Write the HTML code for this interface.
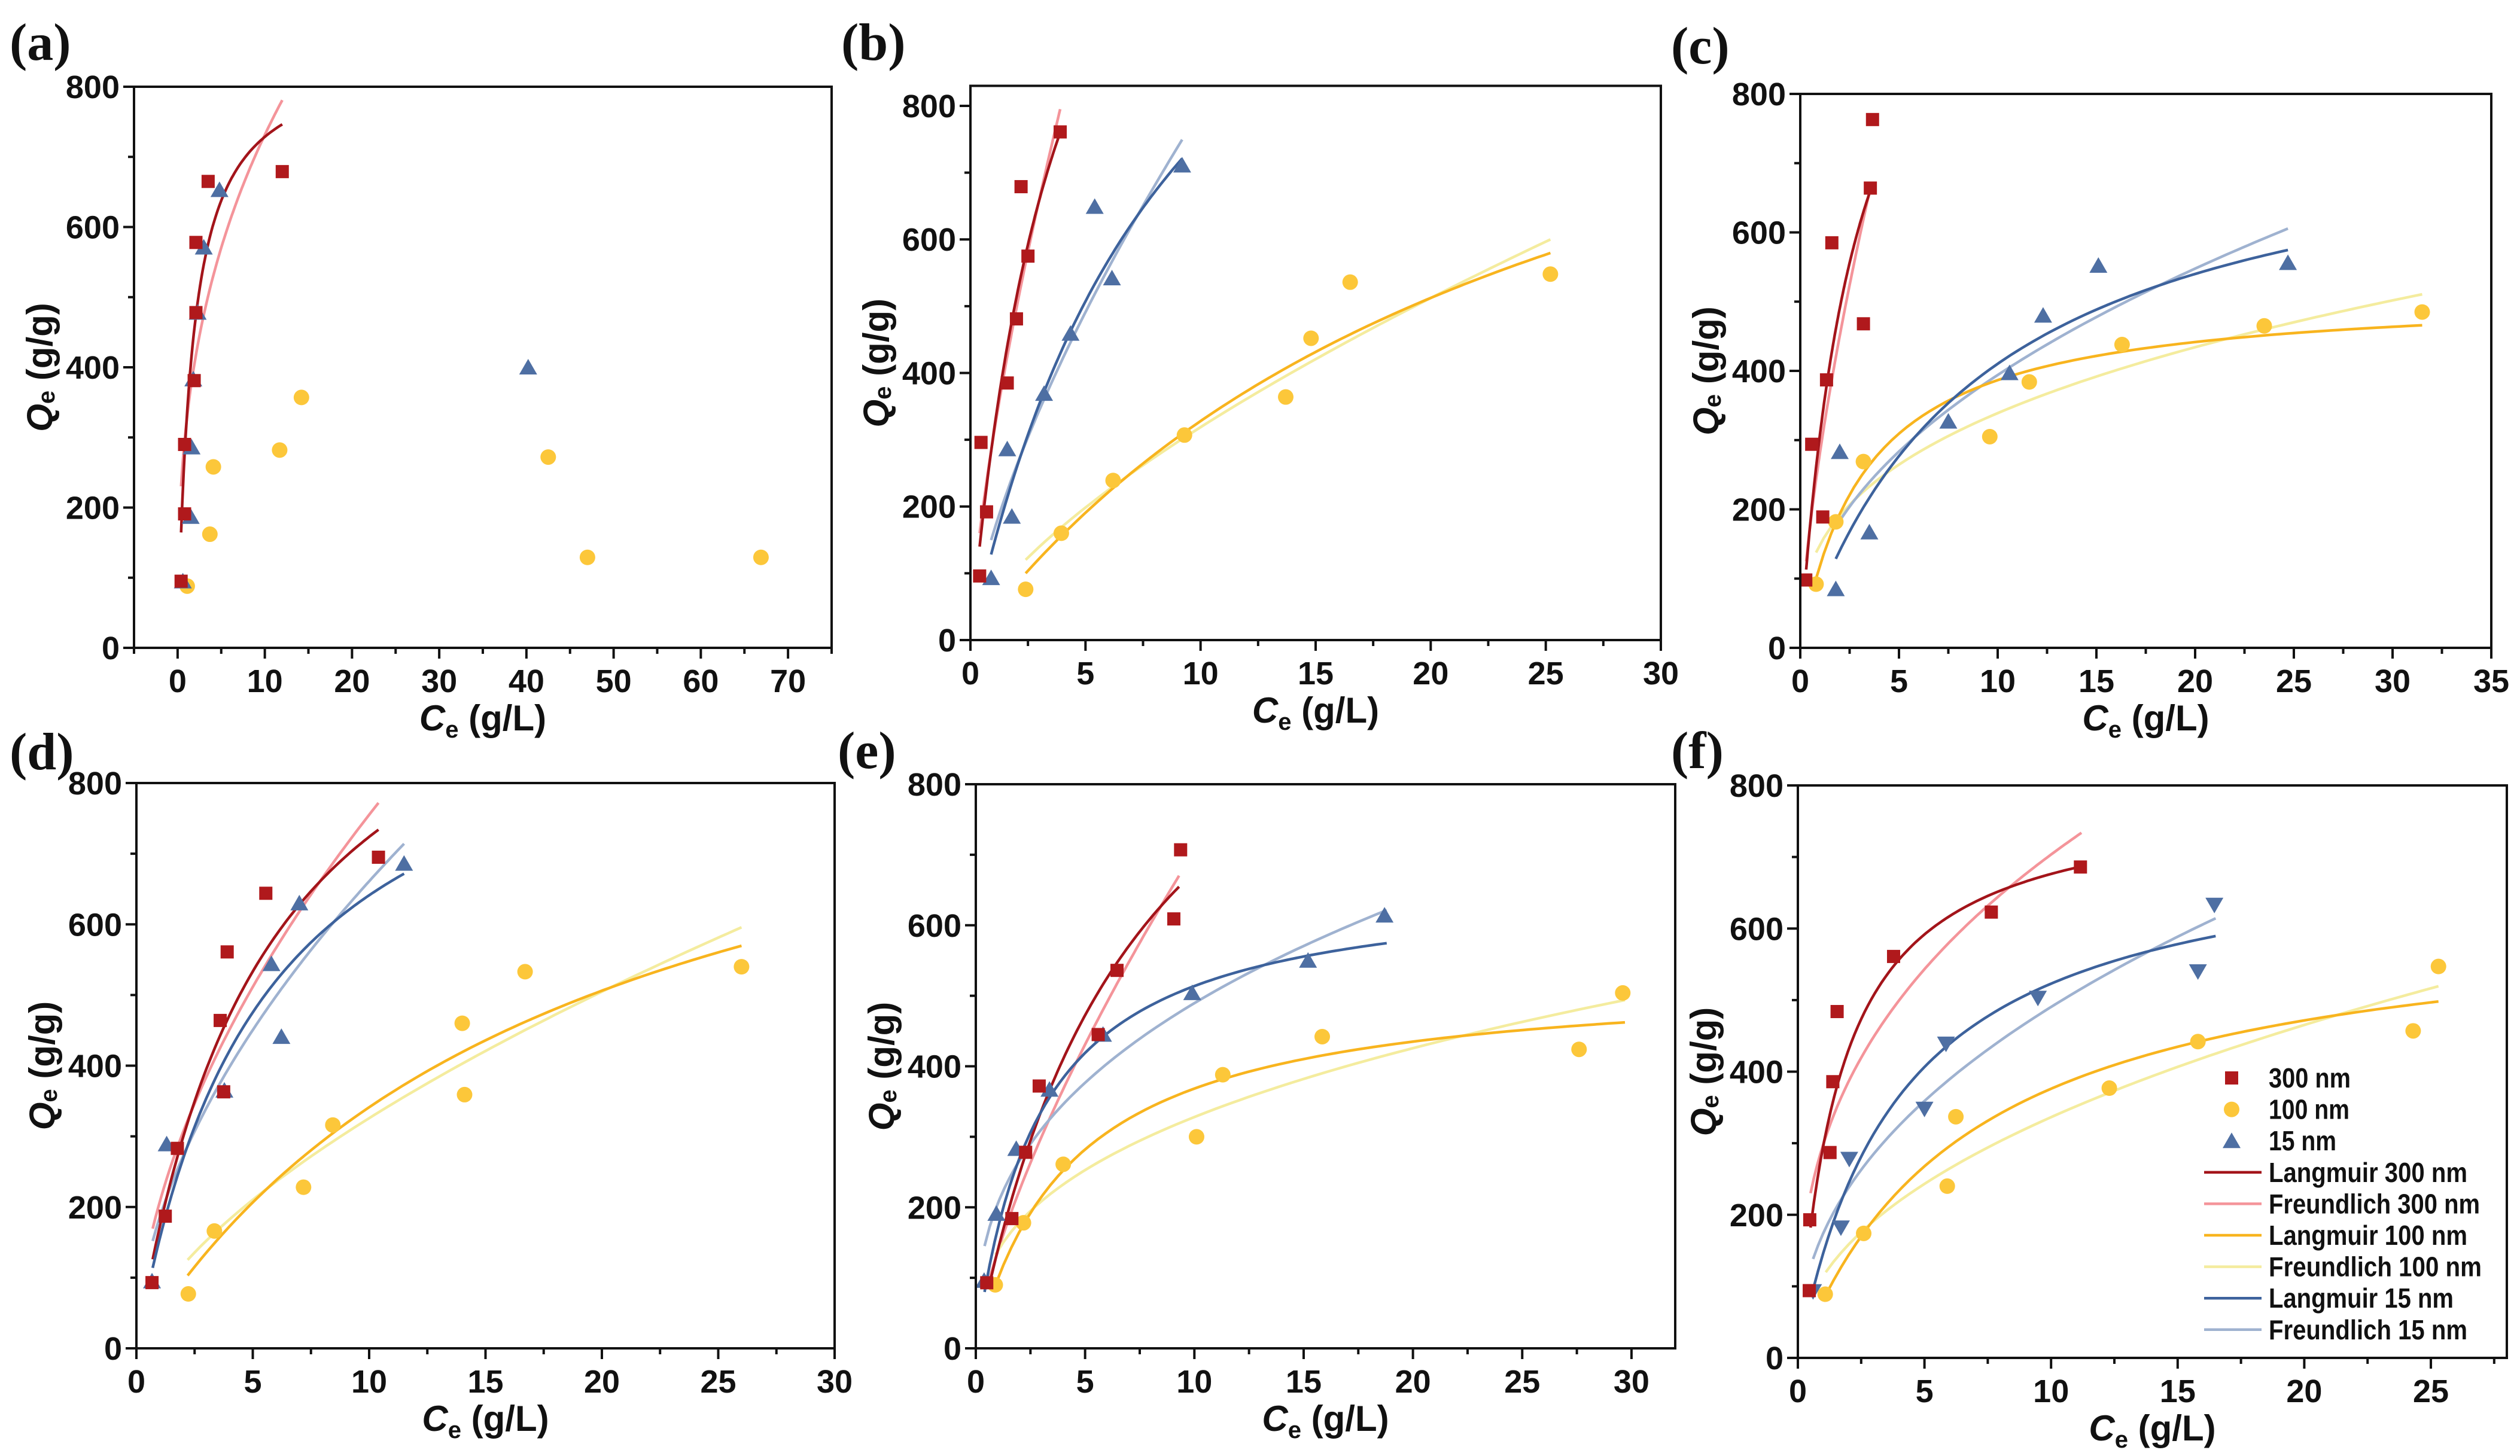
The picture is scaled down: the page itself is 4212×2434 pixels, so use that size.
<!DOCTYPE html>
<html><head><meta charset="utf-8"><style>
html,body{margin:0;padding:0;background:#fff;}
svg{display:block;}
text{font-family:"Liberation Sans",Arial,sans-serif;font-weight:bold;fill:#111;}
.pl{font-family:"Liberation Serif","Times New Roman",serif;font-weight:bold;font-size:88px;}
</style></head><body>
<svg id="fig" xmlns="http://www.w3.org/2000/svg" width="4212" height="2434" viewBox="0 0 4212 2434"></svg>
<script>
// ---- Data (C_e g/L, Q_e g/g) ----
const a_c300=[0.4,0.8,0.8,1.9,2.1,2.1,3.5,12];
const a_q300=[95,191,290,381,478,578,665,679];
const a_c100=[1.1,3.7,4.1,11.7,14.2,42.5,47,66.9];
const a_q100=[88,162,258,282,357,272,129,129];
const a_c15=[0.6,1.5,1.6,1.8,2.3,3.0,4.8,40.2];
const a_q15=[95,187,286,383,478,571,653,400];

const b_c300=[0.4,0.46,0.7,1.6,2.0,2.5,2.2,3.9];
const b_q300=[96,296,192,385,481,575,679,761];
const b_c100=[2.4,3.95,6.2,9.3,13.7,14.8,16.5,25.2];
const b_q100=[76,160,239,307,364,452,536,548];
const b_c15=[0.9,1.8,1.6,3.2,4.35,5.4,6.15,9.2];
const b_q15=[93,185,286,369,459,649,542,711];

const c_c300=[0.28,0.58,1.14,1.33,1.6,3.2,3.55,3.66];
const c_q300=[98,294,189,387,585,468,664,763];
const c_c100=[0.8,1.8,3.2,9.6,11.6,16.3,23.5,31.5];
const c_q100=[92,182,269,305,384,438,465,485];
const c_c15=[1.8,2.0,3.5,7.5,10.6,12.3,15.1,24.7];
const c_q15=[85,283,167,327,397,480,552,556];

const d_c300=[0.67,1.24,1.76,3.6,3.75,3.9,5.56,10.4];
const d_q300=[93,187,283,464,363,561,644,695];
const d_c100=[2.23,3.35,7.18,8.44,14.0,14.1,16.7,26];
const d_q100=[77,166,228,316,460,359,533,540];
const d_c15=[0.67,1.3,3.78,5.8,6.23,7.0,11.5];
const d_q15=[95,289,365,544,441,630,686];

const e_c300=[0.5,1.65,2.28,2.9,5.6,6.46,9.06,9.37];
const e_q300=[93,184,278,372,445,536,609,707];
const e_c100=[0.89,2.18,4.0,10.1,11.3,15.85,27.6,29.6];
const e_q100=[90,178,261,300,388,442,424,504];
const e_c15=[0.38,0.94,1.85,3.37,5.82,9.9,15.2,18.7];
const e_q15=[96,191,283,367,445,504,550,614];

const f_c300=[0.45,0.47,1.27,1.38,1.55,3.78,7.64,11.16];
const f_q300=[94,193,287,386,484,561,623,686];
const f_c100=[1.08,2.6,5.9,6.24,12.3,15.8,24.3,25.3];
const f_q100=[89,174,240,337,377,442,457,547];
const f_c15=[0.6,1.7,2.03,5.0,5.85,9.48,15.8,16.45];
const f_q15=[93,182,278,348,439,503,540,633];

// Fit parameters: Langmuir [qm, K, Cmin, Cmax]; Freundlich [Kf, 1/n, Cmin, Cmax]
const a_L300=[850,0.6,0.4,12];    const a_F300=[320,0.359,0.4,12];
const b_L300=[1540,0.25,0.4,3.9]; const b_F300=[305,0.704,0.4,3.9];
const b_L15=[1447,0.108,0.9,9.2]; const b_F15=[161,0.693,0.9,9.2];
const b_L100=[1171,0.0389,2.4,25.2]; const b_F100=[66,0.684,2.4,25.2];
const c_L300=[1195,0.348,0.3,3.6]; const c_F300=[282,0.676,0.3,3.6];
const c_L15=[790,0.108,1.8,24.7]; const c_F15=[132,0.475,1.8,24.7];
const c_L100=[515,0.301,0.8,31.5]; const c_F100=[149,0.357,0.8,31.5];
const d_L300=[1126,0.18,0.7,10.4]; const d_F300=[207,0.562,0.7,10.4];
const d_L15=[984,0.187,0.7,11.5]; const d_F15=[185,0.553,0.7,11.5];
const d_L100=[980,0.0534,2.2,26]; const d_F100=[76,0.632,2.2,26];
const e_L300=[1188,0.132,0.6,9.3]; const e_F300=[137,0.712,0.6,9.3];
const e_L15=[664,0.342,0.4,18.8]; const e_F15=[205,0.378,0.4,18.8];
const e_L100=[531,0.2265,0.9,29.7]; const e_F100=[138,0.376,0.9,29.7];
const f_L300=[789,0.6,0.5,11.2]; const f_F300=[298,0.373,0.5,11.2];
const f_L15=[733,0.249,0.6,16.5]; const f_F15=[174,0.45,0.6,16.5];
const f_L100=[632,0.147,1.1,25.3]; const f_F100=[114.5,0.468,1.1,25.3];

const yTicks=[0,200,400,600,800];
const legendLabels=["300 nm","100 nm","15 nm","Langmuir 300 nm","Freundlich 300 nm","Langmuir 100 nm","Freundlich 100 nm","Langmuir 15 nm","Freundlich 15 nm"];
const legendWidths=[137,135,113,332,353,332,356,309,332];

const COL={sq:"#b0191c",ci:"#fcc73a",tr:"#4e6fa3",L300:"#a3141a",F300:"#f4949a",L100:"#f8b41e",F100:"#f4ec9e",L15:"#3d629c",F15:"#9fb2d0"};
const NS="http://www.w3.org/2000/svg";
const svg=document.getElementById('fig');
function mk(tag,attrs,parent){const e=document.createElementNS(NS,tag);for(const k in attrs)e.setAttribute(k,attrs[k]);(parent||svg).appendChild(e);return e;}

function panel(p){
  const g=mk('g',{});
  
  
  const X=v=>p.l+(v-p.xmin)/(p.xmax-p.xmin)*(p.r-p.l);
  const Y=v=>p.b-v/p.ymax*(p.b-p.t);
  const fits=[];
  if(p.L300)fits.push(['L',p.L300,COL.L300,'langmuir-300nm']);
  if(p.F300)fits.push(['F',p.F300,COL.F300,'freundlich-300nm']);
  if(p.L100)fits.push(['L',p.L100,COL.L100,'langmuir-100nm']);
  if(p.F100)fits.push(['F',p.F100,COL.F100,'freundlich-100nm']);
  if(p.L15)fits.push(['L',p.L15,COL.L15,'langmuir-15nm']);
  if(p.F15)fits.push(['F',p.F15,COL.F15,'freundlich-15nm']);
  fits.sort((a,b)=>(a[0]==='F'?0:1)-(b[0]==='F'?0:1));
  fits.forEach(f=>{
    const [a,k,c0,c1]=f[1];let d='';
    for(let i=0;i<=80;i++){const c=c0+(c1-c0)*i/80;const q=f[0]==='L'?a*k*c/(1+k*c):a*Math.pow(c,k);d+=(i?'L':'M')+X(c).toFixed(1)+','+Y(q).toFixed(1);}
    const pa=mk('path',{d:d,fill:'none',stroke:f[2],'stroke-width':4.5},g);
    
    
  });
  p.c100.forEach((c,i)=>{const e=mk('ellipse',{cx:X(c),cy:Y(p.q100[i]),rx:13,ry:13,fill:COL.ci},g);
    });
  p.c15.forEach((c,i)=>{const x=X(c),y=Y(p.q15[i]);const s=p.down?-1:1;
    const e=mk('polygon',{points:`${x-15},${y+12*s} ${x+15},${y+12*s} ${x},${y-14*s}`,fill:COL.tr},g);
    });
  p.c300.forEach((c,i)=>{const e=mk('rect',{x:X(c)-11,y:Y(p.q300[i])-11,width:22,height:22,fill:COL.sq},g);
    });
  const fr=mk('rect',{x:p.l,y:p.t,width:p.r-p.l,height:p.b-p.t,fill:'none',stroke:'#111','stroke-width':4},g);
  
  for(let v=Math.ceil(p.xmin/p.minor)*p.minor;v<=p.xmax+1e-6;v+=p.minor){
    const maj=Math.abs(v/p.major-Math.round(v/p.major))<1e-6;
    mk('line',{x1:X(v),x2:X(v),y1:p.b,y2:p.b+(maj?18:10),stroke:'#111','stroke-width':4},g);
    if(maj&&v>=0){const t=mk('text',{x:X(v),y:p.b+74,'font-size':54,'text-anchor':'middle'},g);t.textContent=Math.round(v);
      }
  }
  for(let v=0;v<=p.ymax;v+=100){const maj=v%200===0;
    mk('line',{x1:p.l,x2:p.l-(maj?18:10),y1:Y(v),y2:Y(v),stroke:'#111','stroke-width':4},g);}
  yTicks.forEach(v=>{const t=mk('text',{x:p.l-24,y:Y(v)+19,'font-size':54,'text-anchor':'end'},g);t.textContent=v;
    });
  const xt=mk('text',{x:(p.l+p.r)/2,y:p.b+138,'font-size':60,'text-anchor':'middle'},g);
  xt.innerHTML='<tspan font-style="italic">C</tspan><tspan font-size="40" dy="12">e</tspan><tspan dy="-12"> (g/L)</tspan>';
  
  const cy=(p.t+p.b)/2;
  const yt=mk('text',{x:p.l-158,y:cy,'font-size':60,'text-anchor':'middle',transform:`rotate(-90 ${p.l-158} ${cy})`,'dominant-baseline':'central'},g);
  yt.innerHTML='<tspan font-style="italic">Q</tspan><tspan font-size="40" dy="12">e</tspan><tspan dy="-12"> (g/g)</tspan>';
  
  const pl=mk('text',{x:p.lx,y:p.ly,class:'pl'},g);pl.textContent='('+p.id+')';
  
}

panel({id:'a',l:224,r:1390,t:145,b:1083,xmin:-5,xmax:75,ymax:800,major:10,minor:5,lx:16,ly:100,
  c300:a_c300,q300:a_q300,c100:a_c100,q100:a_q100,c15:a_c15,q15:a_q15,L300:a_L300,F300:a_F300});
panel({id:'b',l:1622,r:2776,t:143.5,b:1070,xmin:0,xmax:30,ymax:830,major:5,minor:2.5,lx:1406,ly:100,
  c300:b_c300,q300:b_q300,c100:b_c100,q100:b_q100,c15:b_c15,q15:b_q15,L300:b_L300,F300:b_F300,L100:b_L100,F100:b_F100,L15:b_L15,F15:b_F15});
panel({id:'c',l:3009,r:4164,t:157,b:1083,xmin:0,xmax:35,ymax:800,major:5,minor:2.5,lx:2793,ly:106,
  c300:c_c300,q300:c_q300,c100:c_c100,q100:c_q100,c15:c_c15,q15:c_q15,L300:c_L300,F300:c_F300,L100:c_L100,F100:c_F100,L15:c_L15,F15:c_F15});
panel({id:'d',l:228,r:1395,t:1309,b:2254,xmin:0,xmax:30,ymax:800,major:5,minor:2.5,lx:16,ly:1286,
  c300:d_c300,q300:d_q300,c100:d_c100,q100:d_q100,c15:d_c15,q15:d_q15,L300:d_L300,F300:d_F300,L100:d_L100,F100:d_F100,L15:d_L15,F15:d_F15});
panel({id:'e',l:1631,r:2800,t:1311,b:2254,xmin:0,xmax:32,ymax:800,major:5,minor:2.5,lx:1400,ly:1284,
  c300:e_c300,q300:e_q300,c100:e_c100,q100:e_q100,c15:e_c15,q15:e_q15,L300:e_L300,F300:e_F300,L100:e_L100,F100:e_F100,L15:e_L15,F15:e_F15});
panel({id:'f',l:3005,r:4190,t:1313,b:2270,xmin:0,xmax:28,ymax:800,major:5,minor:2.5,lx:2793,ly:1284,down:true,
  c300:f_c300,q300:f_q300,c100:f_c100,q100:f_q100,c15:f_c15,q15:f_q15,L300:f_L300,F300:f_F300,L100:f_L100,F100:f_F100,L15:f_L15,F15:f_F15});

const lg=mk('g',{});


const rowY0=1802,rowDY=52.6;
const lineCols=[COL.L300,COL.F300,COL.L100,COL.F100,COL.L15,COL.F15];
legendLabels.forEach((lab,i)=>{
  const y=rowY0+i*rowDY;
  if(i===0)mk('rect',{x:3719,y:y-11,width:22,height:22,fill:COL.sq},lg);
  else if(i===1)mk('ellipse',{cx:3730,cy:y,rx:13,ry:13,fill:COL.ci},lg);
  else if(i===2)mk('polygon',{points:`${3715},${y+12} ${3745},${y+12} ${3730},${y-14}`,fill:COL.tr},lg);
  else mk('line',{x1:3684,x2:3780,y1:y,y2:y,stroke:lineCols[i-3],'stroke-width':4.5},lg);
  const t=mk('text',{x:3792,y:y+16,'font-size':46,textLength:legendWidths[i],lengthAdjust:'spacingAndGlyphs'},lg);t.textContent=lab;
  
  
});
</script>
</body></html>
